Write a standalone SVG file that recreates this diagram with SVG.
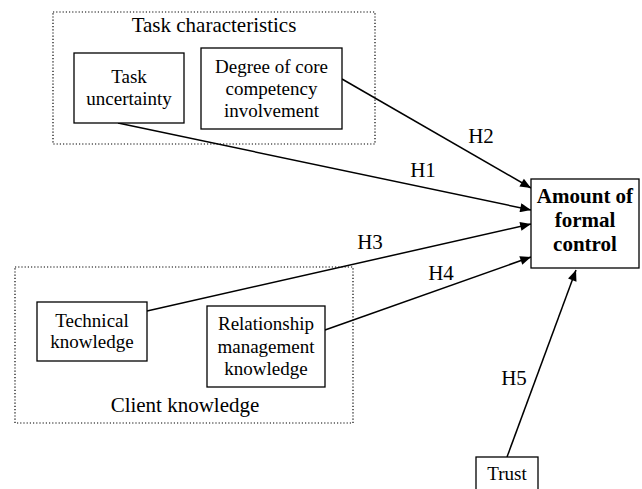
<svg xmlns="http://www.w3.org/2000/svg" width="642" height="489" viewBox="0 0 642 489">
<style>
text{font-family:"Liberation Serif","Times New Roman",serif;font-size:19px;fill:#000;text-anchor:middle}
.l{font-size:21px}
.b{font-weight:bold;font-size:21px}
.box{fill:#fff;stroke:#000;stroke-width:1.3}
.grp{fill:none;stroke:#000;stroke-width:1.2;stroke-dasharray:1.2 2}
.c{stroke:#000;stroke-width:1.5;fill:none;marker-end:url(#ah)}
</style>
<defs>
<marker id="ah" viewBox="0 0 12 10" refX="12" refY="5" markerWidth="12" markerHeight="9" markerUnits="userSpaceOnUse" orient="auto">
<path d="M0,0 L12,5 L0,10 z" fill="#000"/>
</marker>
</defs>
<rect width="642" height="489" fill="#fff"/>
<g id="task-characteristics">
<rect class="grp" x="53" y="12" width="322" height="132"/>
<text class="l" x="214" y="32">Task characteristics</text>
</g>
<g id="client-knowledge">
<rect class="grp" x="15" y="267" width="338" height="156"/>
<text class="l" x="185" y="412">Client knowledge</text>
</g>
<g id="connectors">
<line class="c" x1="118" y1="123" x2="531" y2="210"/>
<line class="c" x1="342" y1="79" x2="531" y2="188"/>
<line class="c" x1="147" y1="311" x2="531" y2="224"/>
<line class="c" x1="325" y1="330" x2="531" y2="257"/>
<line class="c" x1="507" y1="457" x2="576" y2="270"/>
<text class="l" x="423" y="177">H1</text>
<text class="l" x="481" y="143">H2</text>
<text class="l" x="370" y="249">H3</text>
<text class="l" x="441" y="280">H4</text>
<text class="l" x="514" y="385">H5</text>
</g>
<g id="task-uncertainty">
<rect class="box" x="74" y="53" width="110" height="70"/>
<text x="129" y="83">Task</text>
<text x="129" y="105">uncertainty</text>
</g>
<g id="core-competency">
<rect class="box" x="201" y="48" width="141" height="81"/>
<text x="271.5" y="73">Degree of core</text>
<text x="271.5" y="95">competency</text>
<text x="271.5" y="117">involvement</text>
</g>
<g id="technical-knowledge">
<rect class="box" x="37" y="302" width="110" height="59"/>
<text x="92" y="327">Technical</text>
<text x="92" y="348">knowledge</text>
</g>
<g id="relationship-knowledge">
<rect class="box" x="207" y="306" width="118" height="81"/>
<text x="266" y="330">Relationship</text>
<text x="266" y="353">management</text>
<text x="266" y="375">knowledge</text>
</g>
<g id="formal-control">
<rect class="box" x="531" y="179" width="108" height="89"/>
<text class="b" x="585" y="203">Amount of</text>
<text class="b" x="585" y="227">formal</text>
<text class="b" x="585" y="251">control</text>
</g>
<g id="trust">
<rect class="box" x="476" y="457" width="62" height="40"/>
<text x="507" y="480">Trust</text>
</g>
</svg>
